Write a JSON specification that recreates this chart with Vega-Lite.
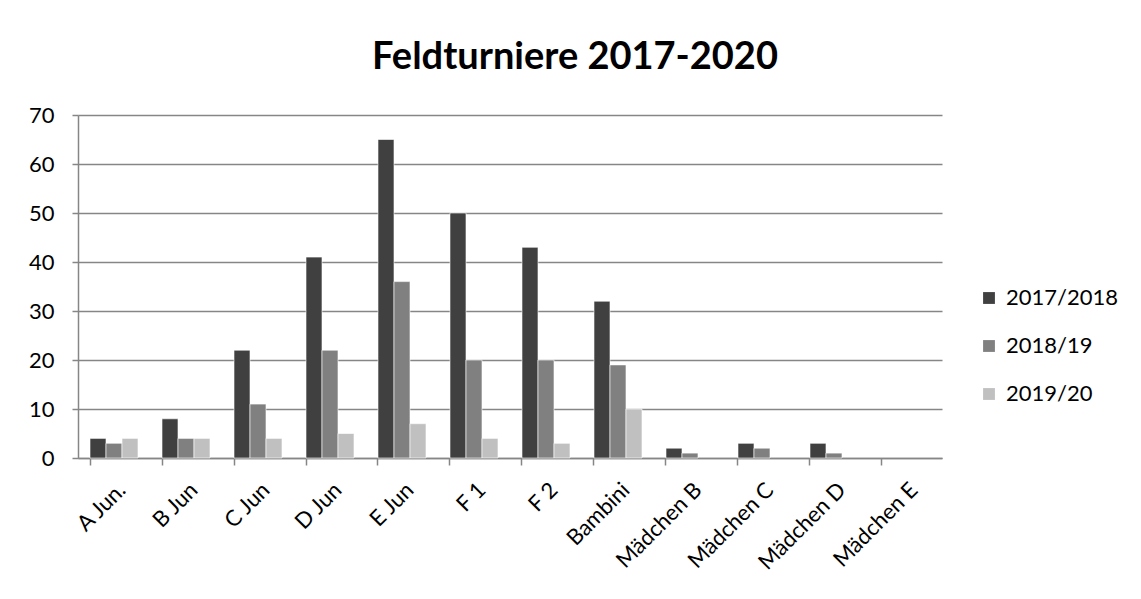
{
  "$schema": "https://vega.github.io/schema/vega-lite/v6.json",
  "width": 864,
  "height": 343,
  "autosize": {"type": "none"},
  "padding": {"left": 78, "top": 115, "right": 199, "bottom": 141},
  "background": "#ffffff",
  "config": {
    "font": "Lato",
    "view": {"stroke": null}
  },
  "title": {
    "text": "Feldturniere 2017-2020",
    "fontSize": 38,
    "fontWeight": "bold",
    "font": "Lato",
    "color": "#000000",
    "anchor": "middle",
    "dx": 65,
    "offset": 27
  },
  "data": {
    "values": [
      {"kategorie": "A Jun.", "saison": "2017/2018", "anzahl": 4},
      {"kategorie": "A Jun.", "saison": "2018/19", "anzahl": 3},
      {"kategorie": "A Jun.", "saison": "2019/20", "anzahl": 4},
      {"kategorie": "B Jun", "saison": "2017/2018", "anzahl": 8},
      {"kategorie": "B Jun", "saison": "2018/19", "anzahl": 4},
      {"kategorie": "B Jun", "saison": "2019/20", "anzahl": 4},
      {"kategorie": "C Jun", "saison": "2017/2018", "anzahl": 22},
      {"kategorie": "C Jun", "saison": "2018/19", "anzahl": 11},
      {"kategorie": "C Jun", "saison": "2019/20", "anzahl": 4},
      {"kategorie": "D Jun", "saison": "2017/2018", "anzahl": 41},
      {"kategorie": "D Jun", "saison": "2018/19", "anzahl": 22},
      {"kategorie": "D Jun", "saison": "2019/20", "anzahl": 5},
      {"kategorie": "E Jun", "saison": "2017/2018", "anzahl": 65},
      {"kategorie": "E Jun", "saison": "2018/19", "anzahl": 36},
      {"kategorie": "E Jun", "saison": "2019/20", "anzahl": 7},
      {"kategorie": "F 1", "saison": "2017/2018", "anzahl": 50},
      {"kategorie": "F 1", "saison": "2018/19", "anzahl": 20},
      {"kategorie": "F 1", "saison": "2019/20", "anzahl": 4},
      {"kategorie": "F 2", "saison": "2017/2018", "anzahl": 43},
      {"kategorie": "F 2", "saison": "2018/19", "anzahl": 20},
      {"kategorie": "F 2", "saison": "2019/20", "anzahl": 3},
      {"kategorie": "Bambini", "saison": "2017/2018", "anzahl": 32},
      {"kategorie": "Bambini", "saison": "2018/19", "anzahl": 19},
      {"kategorie": "Bambini", "saison": "2019/20", "anzahl": 10},
      {"kategorie": "Mädchen B", "saison": "2017/2018", "anzahl": 2},
      {"kategorie": "Mädchen B", "saison": "2018/19", "anzahl": 1},
      {"kategorie": "Mädchen C", "saison": "2017/2018", "anzahl": 3},
      {"kategorie": "Mädchen C", "saison": "2018/19", "anzahl": 2},
      {"kategorie": "Mädchen D", "saison": "2017/2018", "anzahl": 3},
      {"kategorie": "Mädchen D", "saison": "2018/19", "anzahl": 1}
    ]
  },
  "mark": {"type": "bar", "stroke": "#ffffff", "strokeWidth": 0.6},
  "encoding": {
    "x": {
      "field": "kategorie",
      "type": "nominal",
      "title": null,
      "scale": {
        "domain": ["A Jun.", "B Jun", "C Jun", "D Jun", "E Jun", "F 1", "F 2", "Bambini", "Mädchen B", "Mädchen C", "Mädchen D", "Mädchen E"],
        "paddingInner": 0.3333,
        "paddingOuter": 0.1667
      },
      "axis": {
        "labelAngle": -45,
        "labelFontSize": 22,
        "labelColor": "#000000",
        "labelFont": "Lato",
        "labelPadding": 14,
        "labelOffset": 1,
        "bandPosition": 0,
        "tickSize": 7,
        "tickColor": "#868686",
        "tickWidth": 1.5,
        "domainColor": "#868686",
        "domainWidth": 1.5,
        "grid": false
      }
    },
    "xOffset": {
      "field": "saison",
      "type": "nominal",
      "scale": {"paddingInner": 0, "paddingOuter": 0}
    },
    "y": {
      "field": "anzahl",
      "type": "quantitative",
      "title": null,
      "scale": {"domain": [0, 70]},
      "axis": {
        "values": [0, 10, 20, 30, 40, 50, 60, 70],
        "labelFontSize": 22,
        "labelColor": "#000000",
        "labelFont": "Lato",
        "labelPadding": 18,
        "tickSize": 6,
        "tickColor": "#868686",
        "tickWidth": 1.5,
        "domainColor": "#868686",
        "domainWidth": 1.5,
        "gridColor": "#868686",
        "gridWidth": 1.5,
        "gridOpacity": 1
      }
    },
    "color": {
      "field": "saison",
      "type": "nominal",
      "title": null,
      "scale": {
        "domain": ["2017/2018", "2018/19", "2019/20"],
        "range": ["#404040", "#808080", "#c0c0c0"]
      },
      "legend": {
        "orient": "none",
        "legendX": 900,
        "legendY": 172,
        "padding": 0,
        "symbolType": "square",
        "symbolSize": 140,
        "symbolStrokeWidth": 0,
        "labelFontSize": 22,
        "labelFont": "Lato",
        "labelColor": "#000000",
        "labelOffset": 6,
        "rowPadding": 26
      }
    }
  }
}
